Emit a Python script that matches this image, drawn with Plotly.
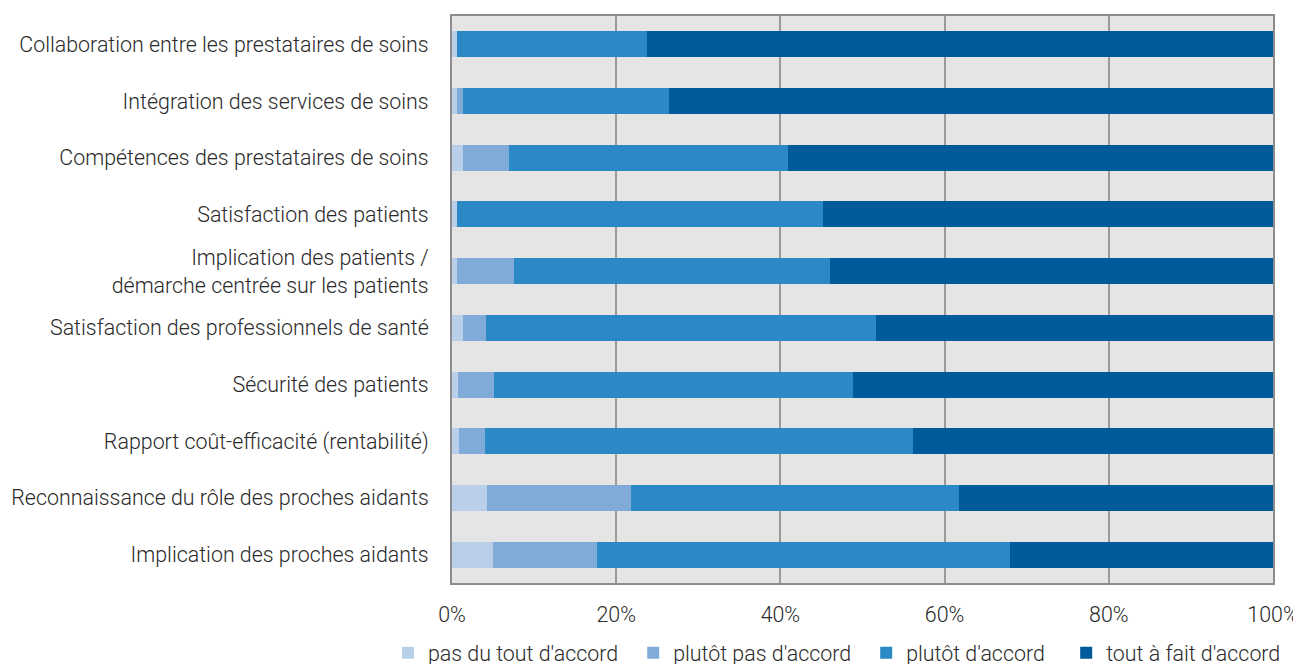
import plotly.graph_objects as go

categories = [
    "Collaboration entre les prestataires de soins",
    "Intégration des services de soins",
    "Compétences des prestataires de soins",
    "Satisfaction des patients",
    "Implication des patients /<br>démarche centrée sur les patients",
    "Satisfaction des professionnels de santé",
    "Sécurité des patients",
    "Rapport coût-efficacité (rentabilité)",
    "Reconnaissance du rôle des proches aidants",
    "Implication des proches aidants",
]
pas_du_tout = [0.6, 0.6, 1.4, 0.6, 0.6, 1.4, 0.7, 0.8, 4.3, 5.0]
plutot_pas = [0.0, 0.7, 5.6, 0.0, 7.0, 2.8, 4.4, 3.2, 17.5, 12.6]
plutot = [23.1, 25.1, 33.9, 44.6, 38.5, 47.5, 43.8, 52.1, 39.9, 50.4]
tout_a_fait = [76.3, 73.6, 59.1, 54.8, 53.9, 48.3, 51.1, 43.9, 38.3, 32.0]

series = [
    ("pas du tout d'accord", pas_du_tout, "#b9cfea"),
    ("plutôt pas d'accord", plutot_pas, "#80abd8"),
    ("plutôt d'accord", plutot, "#2b8ac6"),
    ("tout à fait d'accord", tout_a_fait, "#005b9a"),
]
legend_ids = ["legend", "legend2", "legend3", "legend4"]
legend_x = [-0.078, 0.2207, 0.5045, 0.7481]

TEXT = "#2a2a2a"
FONT = dict(family="Roboto", size=21.4, color=TEXT, weight=300)

fig = go.Figure()
for (name, vals, col), lid in zip(series, legend_ids):
    fig.add_trace(go.Bar(
        y=categories, x=vals, name=name, orientation="h",
        marker=dict(color=col, line=dict(width=0)),
        legend=lid,
    ))

layout_legends = {}
for lid, lx in zip(legend_ids, legend_x):
    layout_legends[lid] = dict(orientation="h", x=lx, xanchor="left", y=-0.087,
                               yanchor="top", font=FONT, bgcolor="rgba(0,0,0,0)")

fig.update_layout(
    barmode="stack",
    bargap=0.54,
    width=1293, height=656,
    margin=dict(l=444, r=28, t=8, b=81, autoexpand=False),
    paper_bgcolor="white",
    plot_bgcolor="#e5e5e5",
    font=FONT,
    showlegend=True,
    xaxis=dict(range=[0, 100], tickvals=[0, 20, 40, 60, 80, 100],
               ticktext=["0%", "20%", "40%", "60%", "80%", "100%"],
               showgrid=True, gridcolor="#9a9a9a", gridwidth=2,
               showline=True, linecolor="#8c8c8c", linewidth=2, mirror=True,
               zeroline=False, ticks="", ticklabelstandoff=11, automargin=False,
               ticklabeloverflow="allow"),
    yaxis=dict(autorange="reversed", showline=True, linecolor="#8c8c8c", linewidth=2,
               mirror=True, ticks="", ticklabelstandoff=17, showgrid=False,
               automargin=False),
    **layout_legends,
)

fig.write_html("out.html")
